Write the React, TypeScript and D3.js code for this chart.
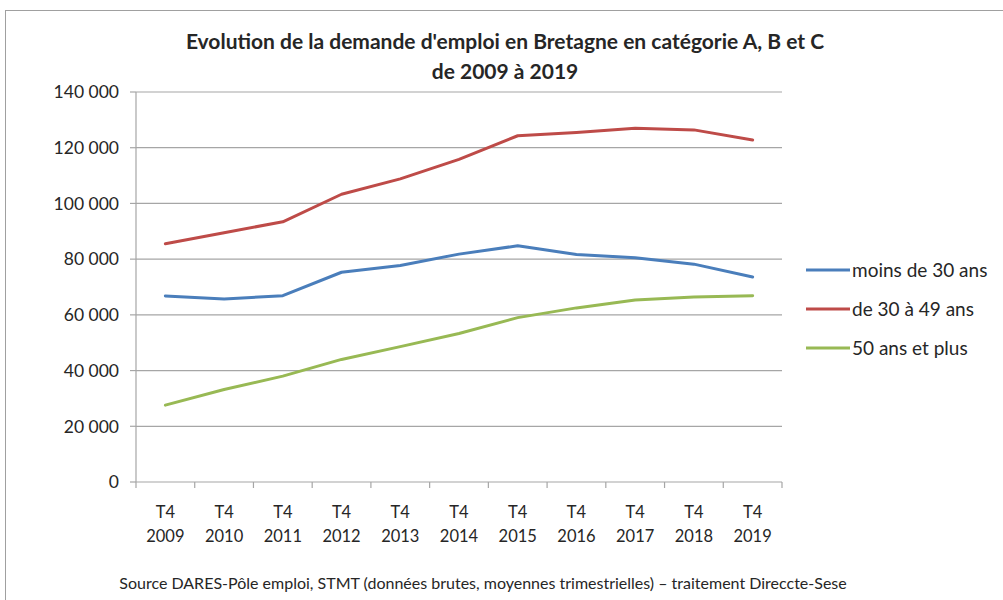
import React from "react";
import * as d3 from "d3";

const categories = ["2009", "2010", "2011", "2012", "2013", "2014", "2015", "2016", "2017", "2018", "2019"];
const seriesNames = ["moins de 30 ans", "de 30 à 49 ans", "50 ans et plus"];
const moins30 = [66800, 65700, 66900, 75300, 77700, 81800, 84800, 81700, 80500, 78200, 73600];
const de30a49 = [85500, 89500, 93400, 103300, 108800, 115800, 124300, 125500, 127000, 126400, 122800];
const plus50 = [27600, 33200, 38000, 44000, 48600, 53300, 59000, 62500, 65300, 66400, 66900];
const yTicks = [0, 20000, 40000, 60000, 80000, 100000, 120000, 140000];
const colors = ["#4a7ebb", "#be4b48", "#98b954"];

const font = "Lato, 'Open Sans', sans-serif";

function App() {
  const w = 1003,
    h = 600,
    margin = { top: 92, left: 136, right: 221, bottom: 118 };
  const width = w - margin.left - margin.right,
    height = h - margin.top - margin.bottom;

  const xScale = d3.scaleBand().domain(categories).range([0, width]);
  const yScale = d3.scaleLinear().domain([0, 140000]).range([height, 0]);
  const fmt = (v: number) => d3.format(",")(v).replace(/,/g, " ");

  const series = [moins30, de30a49, plus50];
  const line = d3
    .line<number>()
    .x((d, i) => xScale(categories[i])! + xScale.bandwidth() / 2)
    .y(d => yScale(d));

  const grid = yTicks.map((t, i) => (
    <g key={i}>
      {t > 0 && <line x1={0} x2={width} y1={yScale(t)} y2={yScale(t)} stroke="#a6a6a6" strokeWidth={1.2} />}
      <line x1={-6} x2={0} y1={yScale(t)} y2={yScale(t)} stroke="#a6a6a6" strokeWidth={1.2} />
      <text x={-17} y={yScale(t)} dy=".36em" textAnchor="end" fontSize={17.5} fontFamily={font} fill="#262626">
        {fmt(t)}
      </text>
    </g>
  ));

  const xTicks = categories.map((c, i) => (
    <line key={i} x1={xScale(c)!} x2={xScale(c)!} y1={height} y2={height + 6} stroke="#a6a6a6" strokeWidth={1.2} />
  ));

  const xLabels = categories.map((c, i) => (
    <g key={i} fontFamily={font} fontSize={16.5} fill="#262626" textAnchor="middle">
      <text x={xScale(c)! + xScale.bandwidth() / 2} y={height + 36}>T4</text>
      <text x={xScale(c)! + xScale.bandwidth() / 2} y={height + 60}>{c}</text>
    </g>
  ));

  const lines = series.map((s, i) => (
    <path key={i} d={line(s) || ""} fill="none" stroke={colors[i]} strokeWidth={3} strokeLinejoin="round" strokeLinecap="round" />
  ));

  const legend = seriesNames.map((n, i) => (
    <g key={i} transform={`translate(806,${270 + i * 39})`}>
      <line x1={0} x2={44} y1={0} y2={0} stroke={colors[i]} strokeWidth={3} />
      <text x={46} y={0} dy=".36em" fontSize={19} fontFamily={font} fill="#262626">{n}</text>
    </g>
  ));

  return (
    <div style={{ position: "absolute", left: 0, top: 0 }}>
      <svg width={w} height={h} style={{ display: "block", background: "#fff" }}>
        <rect x={5.5} y={10.5} width={1010} height={600} fill="none" stroke="#a0a0a0" strokeWidth={1} />
        <g fontFamily={font} fontWeight="bold" fontSize={21} fill="#262626" textAnchor="middle">
          <text x={505} y={49}>Evolution de la demande d'emploi en Bretagne en catégorie A, B et C</text>
          <text x={505} y={79}>de 2009 à 2019</text>
        </g>
        <g transform={`translate(${margin.left},${margin.top})`}>
          {grid}
          <line x1={0} x2={0} y1={0} y2={height} stroke="#a6a6a6" strokeWidth={1.2} />
          <line x1={0} x2={width} y1={height} y2={height} stroke="#a6a6a6" strokeWidth={1.2} />
          {xTicks}
          <line x1={width} x2={width} y1={height} y2={height + 6} stroke="#a6a6a6" strokeWidth={1.2} />
          {xLabels}
          {lines}
        </g>
        {legend}
        <text x={483} y={589} textAnchor="middle" fontSize={16} fontFamily={font} fill="#262626">
          Source DARES-Pôle emploi, STMT (données brutes, moyennes trimestrielles) – traitement Direccte-Sese
        </text>
      </svg>
    </div>
  );
}

export default App;
